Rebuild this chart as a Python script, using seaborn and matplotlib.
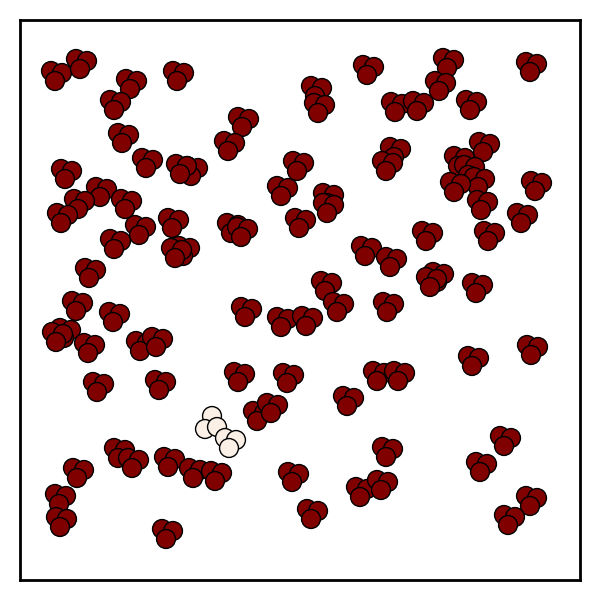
# Snapshot of water molecules in a box, one pair highlighted
import pandas as pd
import numpy as np
import seaborn as sns
import matplotlib.pyplot as plt

# molecule positions (front atom), box is 20..580
mol_x = [55, 80, 130, 114, 177, 122, 146, 191, 180, 65,
         100, 78, 125, 61, 139, 172, 114, 183, 175, 89,
         76, 113, 64, 56, 88, 140, 156, 97, 159, 118,
         132, 77, 168, 193, 215, 59, 60, 166, 242, 228,
         315, 318, 367, 297, 281, 327, 327, 394, 386, 447,
         439, 395, 417, 470, 530, 483, 458, 468, 478, 454,
         481, 535, 521, 426, 488, 437, 430, 476, 231, 241,
         299, 365, 390, 325, 337, 245, 281, 306, 387, 238,
         287, 377, 398, 347, 472, 531, 257, 271, 386, 504,
         480, 292, 360, 381, 311, 530, 508,
         217, 229]
mol_y = [81, 69, 89, 110, 81, 143, 168, 176, 174, 179,
         197, 209, 209, 223, 235, 228, 249, 256, 258, 278,
         311, 322, 338, 342, 353, 351, 347, 392, 390, 458,
         468, 478, 467, 478, 481, 504, 527, 539, 127, 151,
         96, 113, 75, 171, 196, 203, 213, 157, 171, 68,
         91, 112, 111, 110, 72, 152, 166, 175, 187, 192,
         210, 191, 223, 241, 241, 282, 287, 293, 233, 237,
         228, 256, 267, 291, 312, 317, 327, 326, 312, 382,
         383, 381, 381, 406, 366, 355, 421, 413, 457, 446,
         472, 482, 497, 490, 519, 506, 525,
         427, 448]
n_red = 97
mol_group = ['bulk'] * n_red + ['tagged', 'tagged']
mol_pose = ['a'] * n_red + ['b', 'a']

# atom offsets from the front atom, drawn back to front
poses = {'a': [(-4, -10), (7, -8), (0, 0)],
         'b': [(-5, -11), (-12, 2), (0, 0)]}

rows = []
for x, y, g, p in zip(mol_x, mol_y, mol_group, mol_pose):
    for dx, dy in poses[p]:
        rows.append({'x': x + dx, 'y': y + dy, 'group': g})
atoms = pd.DataFrame(rows)

sns.set_style('white')
fig = plt.figure(figsize=(6, 6.02), dpi=100)
ax = fig.add_axes([20 / 600, 22 / 602, 560 / 600, 560 / 602])

sns.scatterplot(data=atoms, x='x', y='y', hue='group',
                palette={'bulk': '#800000', 'tagged': '#faf0e6'},
                s=185, edgecolor='black', linewidth=1.0,
                legend=False, ax=ax)

ax.set_xlim(20, 580)
ax.set_ylim(580, 20)
ax.set_xticks([])
ax.set_yticks([])
ax.set_xlabel('')
ax.set_ylabel('')
for side in ax.spines.values():
    side.set_visible(True)
    side.set_color('black')
    side.set_linewidth(2.0)

fig.savefig('out.png', dpi=100)
